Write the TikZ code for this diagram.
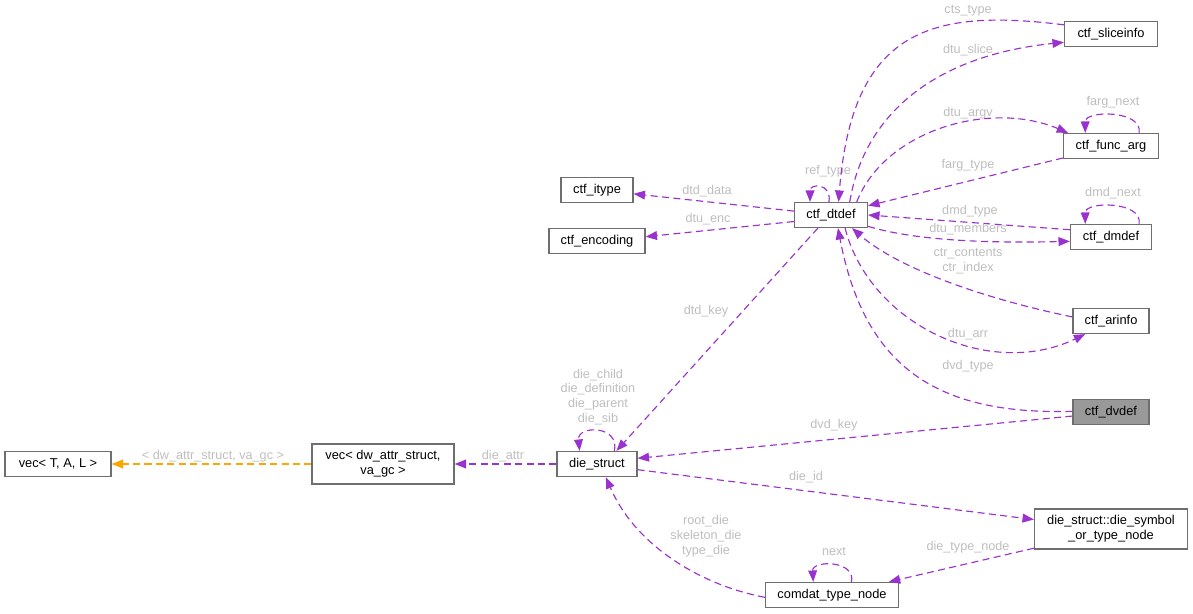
\documentclass[tikz,border=0pt]{standalone}
\usepackage{fontspec}
\setmainfont{Liberation Sans}
\usetikzlibrary{arrows.meta}
\definecolor{edgepurple}{RGB}{154,50,205}
\definecolor{tplorange}{RGB}{255,165,0}
\definecolor{lblgrey}{RGB}{190,190,190}
\definecolor{boxgrey}{RGB}{110,110,110}
\definecolor{dvfill}{RGB}{153,153,153}
\tikzstyle{cls} = [draw=boxgrey, fill=white, line width=0.7pt, inner sep=0pt, minimum height=0.5cm, align=center, font=\fontsize{7.3}{8.6}\selectfont]
\tikzstyle{lbl} = [text=lblgrey, inner sep=0pt, align=center, font=\fontsize{7.2}{8.4}\selectfont]
\tikzset{
  edge/.style ={draw=edgepurple, line width=0.65pt, dash pattern=on 4pt off 2.5pt, ->},
  tmpl/.style ={edge, draw=tplorange}
}

\begin{document}
\begin{tikzpicture}[x=0.02cm,y=-0.02cm,>={Triangle[length=6.5pt,width=5pt]}]
\useasboundingbox (0,0) rectangle (1193,614);
% classes
\node[cls, minimum width=2.12cm] (vectal) at (58,464) {vec< T, A, L >};
\node[cls, minimum width=2.84cm, minimum height=0.8cm] (vecdw) at (383,464) {vec< dw\_attr\_struct,\\va\_gc >};
\node[cls, minimum width=1.6cm] (die) at (597,464) {die\_struct};
\node[cls, minimum width=1.44cm] (itype) at (597,190) {ctf\_itype};
\node[cls, minimum width=1.92cm] (encoding) at (597,241) {ctf\_encoding};
\node[cls, minimum width=1.46cm] (dtdef) at (831,215) {ctf\_dtdef};
\node[cls, minimum width=1.86cm] (sliceinfo) at (1111,34) {ctf\_sliceinfo};
\node[cls, minimum width=1.9cm] (funcarg) at (1111,146) {ctf\_func\_arg};
\node[cls, minimum width=1.62cm] (dmdef) at (1111,237) {ctf\_dmdef};
\node[cls, minimum width=1.52cm] (arinfo) at (1111,321) {ctf\_arinfo};
\node[cls, minimum width=1.52cm, fill=dvfill] (dvdef) at (1111,412) {ctf\_dvdef};
\node[cls, minimum width=3.06cm, minimum height=0.8cm] (dsym) at (1111,529) {die\_struct::die\_symbol\\\_or\_type\_node};
\node[cls, minimum width=2.66cm] (comdat) at (832,595) {comdat\_type\_node};

% template and die_struct edges
\draw[tmpl] (vecdw.west) -- (vectal.east) node[lbl] (ltmpl) at (213,456) {< dw\_attr\_struct, va\_gc >};
\draw[edge] (die.west) -- (vecdw.east) node[lbl] (ldieattr) at (503,456) {die\_attr};
\draw[edge] (die.37) .. controls (620,425) and (577,425) .. (die.143)
  node[lbl] (ldieself) at (598,397) {die\_child\\die\_definition\\die\_parent\\die\_sib};
\draw[edge] (dtdef.225) -- (die.34) node[lbl] (ldtdkey) at (706,311) {dtd\_key};
\draw[edge] (dvdef.186) -- (die.8) node[lbl] (ldvdkey) at (834,425) {dvd\_key};
\draw[edge] (die.-8) -- (dsym.173) node[lbl] (ldieid) at (806,477) {die\_id};
\draw[edge] (comdat.182) .. controls (700,585) and (635,545) .. (die.-56)
  node[lbl] (lrootdie) at (706,536) {root\_die\\skeleton\_die\\type\_die};
\draw[edge] (comdat.34) .. controls (856,560) and (812,560) .. (comdat.145)
  node[lbl] (lnext) at (834,551) {next};
\draw[edge] (dsym.194) -- (comdat.13) node[lbl] (ldtnode) at (968,547) {die\_type\_node};

% ctf_dtdef edges
\draw[edge] (dtdef.174) -- (itype.-6) node[lbl] (ldtddata) at (707,191) {dtd\_data};
\draw[edge] (dtdef.190) -- (encoding.5) node[lbl] (ldtuenc) at (708,219) {dtu\_enc};
\draw[edge] (dtdef.99) .. controls (832,183) and (810,183) .. (dtdef.148)
  node[lbl] (lreftype) at (828,171) {ref\_type};
\draw[edge] (sliceinfo.169) .. controls (930,8) and (852,30) .. (dtdef.60)
  node[lbl] (lctstype) at (968,11) {cts\_type};
\draw[edge] (dtdef.35) .. controls (865,110) and (940,55) .. (sliceinfo.190)
  node[lbl] (ldtuslice) at (968,50) {dtu\_slice};
\draw[edge] (dtdef.27) .. controls (885,130) and (990,100) .. (funcarg.163)
  node[lbl] (ldtuargv) at (968,113) {dtu\_argv};
\draw[edge] (funcarg.25) .. controls (1143,110) and (1085,110) .. (funcarg.153)
  node[lbl] (lfargnext) at (1113,102) {farg\_next};
\draw[edge] (funcarg.194) -- (dtdef.14) node[lbl] (lfargtype) at (968,165) {farg\_type};
\draw[edge] (dmdef.170) -- (dtdef.east) node[lbl] (ldmdtype) at (970,211) {dmd\_type};
\draw[edge] (dtdef.-17) .. controls (920,242) and (1000,243) .. (dmdef.186)
  node[lbl] (ldtumembers) at (968,229) {dtu\_members};
\draw[edge] (dmdef.25) .. controls (1143,201) and (1085,201) .. (dmdef.153)
  node[lbl] (ldmdnext) at (1113,193) {dmd\_next};
\draw[edge] (arinfo.174) .. controls (990,300) and (900,270) .. (dtdef.-32)
  node[lbl] (lctr) at (968,261) {ctr\_contents\\ctr\_index};
\draw[edge] (dtdef.-43) .. controls (870,325) and (990,380) .. (arinfo.207)
  node[lbl] (ldtuarr) at (968,334) {dtu\_arr};
\draw[edge] (dvdef.179) .. controls (940,415) and (865,370) .. (dtdef.-62)
  node[lbl] (ldvdtype) at (968,366) {dvd\_type};
\end{tikzpicture}
\end{document}
